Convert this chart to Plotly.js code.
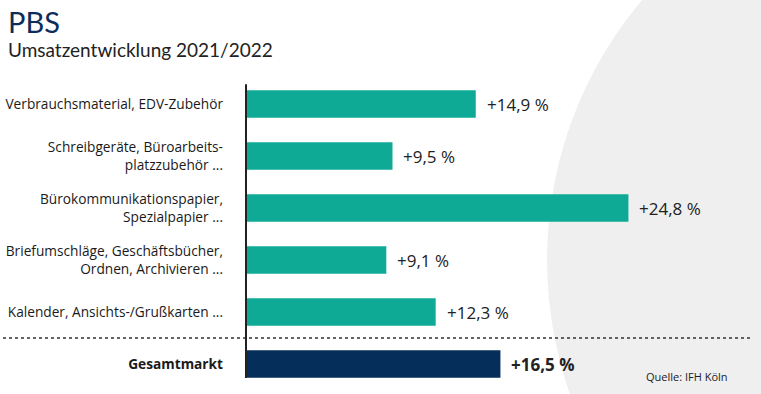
<!DOCTYPE html>
<html><head><meta charset="utf-8">
<script src="https://cdn.plot.ly/plotly-3.0.1.min.js"></script>
<style>html,body{margin:0;padding:0;background:#fff}#chart{width:761px;height:394px}</style>
</head><body><div id="chart"></div>
<script>
const categories = [
  "Verbrauchsmaterial, EDV-Zubehör",
  "Schreibgeräte, Büroarbeits-<br>platzzubehör ...",
  "Bürokommunikationspapier,<br>Spezialpapier ...",
  "Briefumschläge, Geschäftsbücher,<br>Ordnen, Archivieren ...",
  "Kalender, Ansichts-/Grußkarten ...",
  "<b>Gesamtmarkt</b>"
];
const values = [14.9, 9.5, 24.8, 9.1, 12.3, 16.5];
const valueLabels = ["+14,9 %", "+9,5 %", "+24,8 %", "+9,1 %", "+12,3 %", "<b>+16,5 %</b>"];
const barColors = ["#0eaa96", "#0eaa96", "#0eaa96", "#0eaa96", "#0eaa96", "#052f5a"];
const titleText = "PBS";
const subtitleText = "Umsatzentwicklung 2021/2022";
const sourceText = "Quelle: IFH Köln";

const Wd = 761, Ht = 394;
const L = 246, R = 0, T = 78, B = 4;
const PW = Wd - L - R, PH = Ht - T - B;
const X = px => (px - L) / PW;
const Y = py => 1 - (py - T) / PH;
const FONT = "Lato, 'Noto Sans', sans-serif";
const LFONT = "'Open Sans', 'Noto Sans', sans-serif";
const idx = categories.map((_, i) => i);

const trace = {
  type: "bar", orientation: "h",
  y: idx, x: values,
  width: 0.53,
  marker: {color: barColors},
  hoverinfo: "skip"
};

const annotations = values.map((v, i) => ({
  x: v, y: i, xref: "x", yref: "y",
  text: valueLabels[i], showarrow: false,
  xanchor: "left", yanchor: "middle", xshift: 9,
  font: {family: LFONT, size: 17, color: "#222"}
}));
annotations.push(
  {xref: "paper", yref: "paper", x: X(6), y: Y(2), xanchor: "left", yanchor: "top",
   text: titleText, showarrow: false, font: {family: FONT, size: 29, color: "#0b2d5b"}},
  {xref: "paper", yref: "paper", x: X(6), y: Y(36), xanchor: "left", yanchor: "top",
   text: subtitleText, showarrow: false, font: {family: FONT, size: 19, color: "#222"}},
  {xref: "paper", yref: "paper", x: X(644), y: Y(376), xanchor: "left", yanchor: "middle",
   text: sourceText, showarrow: false, font: {family: LFONT, size: 11, color: "#222"}}
);

const cx = 950, cy = 260, r = 403;
const shapes = [
  {type: "circle", xref: "paper", yref: "paper", layer: "below",
   x0: X(cx - r), x1: X(cx + r), y0: Y(cy + r), y1: Y(cy - r),
   fillcolor: "#efefef", line: {width: 0}},
  {type: "line", xref: "paper", yref: "y", x0: X(3), x1: X(753), y0: 4.5, y1: 4.5,
   line: {color: "#333", width: 1.5, dash: "dot"}},
  {type: "line", xref: "paper", yref: "y", x0: 0, x1: 0, y0: -0.38, y1: 5.27,
   line: {color: "#222", width: 2}}
];

const layout = {
  width: Wd, height: Ht,
  margin: {l: L, r: R, t: T, b: B, pad: 0},
  paper_bgcolor: "#fff", plot_bgcolor: "rgba(0,0,0,0)",
  showlegend: false,
  xaxis: {range: [0, PW / 15.42], visible: false, fixedrange: true},
  yaxis: {range: [5.5, -0.5], tickmode: "array", tickvals: idx, ticktext: categories,
          showgrid: false, zeroline: false, showline: false, ticks: "",
          ticklabelstandoff: 22,
          tickfont: {family: LFONT, size: 13.7, color: "#1a1a1a"}, fixedrange: true},
  shapes: shapes,
  annotations: annotations
};
Plotly.newPlot("chart", [trace], layout, {displayModeBar: false, staticPlot: true});
</script></body></html>
